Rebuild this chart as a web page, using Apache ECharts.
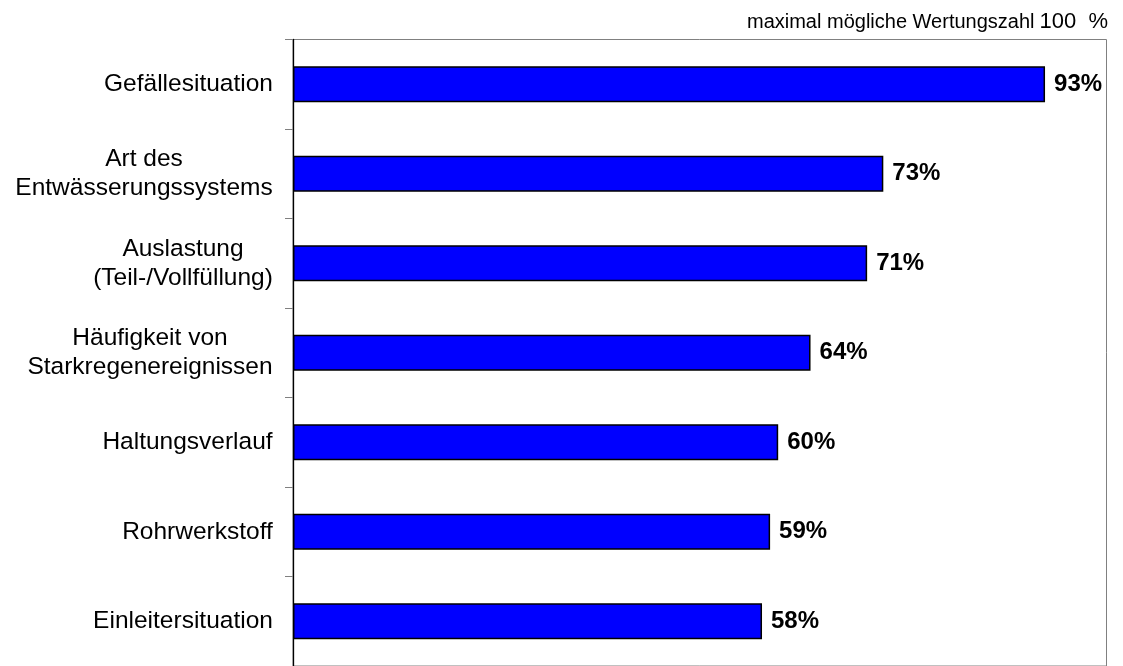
<!DOCTYPE html>
<html>
<head>
<meta charset="utf-8">
<script src="https://cdn.jsdelivr.net/npm/echarts@6/dist/echarts.min.js"></script>
<style>
html, body { margin: 0; padding: 0; background: #fff; }
#chart { width: 1123px; height: 666px; }
</style>
</head>
<body>
<div id="chart"></div>
<script>
const categories = [
  'Gefällesituation',
  'Art des\nEntwässerungssystems',
  'Auslastung\n(Teil-/Vollfüllung)',
  'Häufigkeit von\nStarkregenereignissen',
  'Haltungsverlauf',
  'Rohrwerkstoff',
  'Einleitersituation'
];
const values = [93, 73, 71, 64, 60, 59, 58];
const headerText = 'maximal mögliche Wertungszahl';
const headerValue = '100  %';

const FONT = '"Liberation Sans", Arial, sans-serif';
const catFontSize = 24.5;

// measure widths so multi-line labels are centered line by line, block right-aligned
const ctx = document.createElement('canvas').getContext('2d');
ctx.font = catFontSize + 'px ' + FONT;
const rich = {};
categories.forEach((c, i) => {
  const w = Math.max(...c.split('\n').map(l => ctx.measureText(l).width));
  rich['l' + i] = {
    width: Math.ceil(w),
    align: 'center',
    fontSize: catFontSize,
    lineHeight: 29,
    fontFamily: FONT,
    color: '#000'
  };
});

const chart = echarts.init(document.getElementById('chart'), null, { renderer: 'canvas' });
chart.setOption({
  animation: false,
  backgroundColor: '#fff',
  title: {
    right: 10,
    top: 6,
    text: '{s|' + headerText + '} {b|' + headerValue + '}',
    textStyle: {
      fontWeight: 'normal',
      rich: {
        s: { fontSize: 20, fontWeight: 'normal', fontFamily: FONT, color: '#000' },
        b: { fontSize: 22, fontWeight: 'normal', fontFamily: FONT, color: '#000' }
      }
    }
  },
  grid: {
    left: 293,
    right: 16.5,
    top: 39.5,
    height: 631.5,
    show: true,
    borderColor: '#808080',
    borderWidth: 1,
    backgroundColor: '#fff'
  },
  xAxis: {
    type: 'value',
    min: 0,
    max: 100.6,
    show: false,
    splitLine: { show: false }
  },
  yAxis: {
    type: 'category',
    data: categories,
    inverse: true,
    axisLine: { show: true, lineStyle: { color: '#000', width: 1.3 } },
    axisTick: { show: true, length: 8, lineStyle: { color: '#808080', width: 1 } },
    axisLabel: {
      margin: 20,
      formatter: (v, i) => v.split('\n').map(l => '{l' + i + '|' + l + '}').join('\n'),
      rich: rich
    },
    splitLine: { show: false }
  },
  series: [{
    type: 'bar',
    data: values,
    barWidth: 36,
    itemStyle: { color: '#0000FF', borderColor: '#000', borderWidth: 1.5 },
    label: {
      show: true,
      position: 'right',
      distance: 9,
      formatter: '{c}%',
      fontSize: 24,
      fontWeight: 'bold',
      fontFamily: FONT,
      color: '#000'
    }
  }]
});
</script>
</body>
</html>
